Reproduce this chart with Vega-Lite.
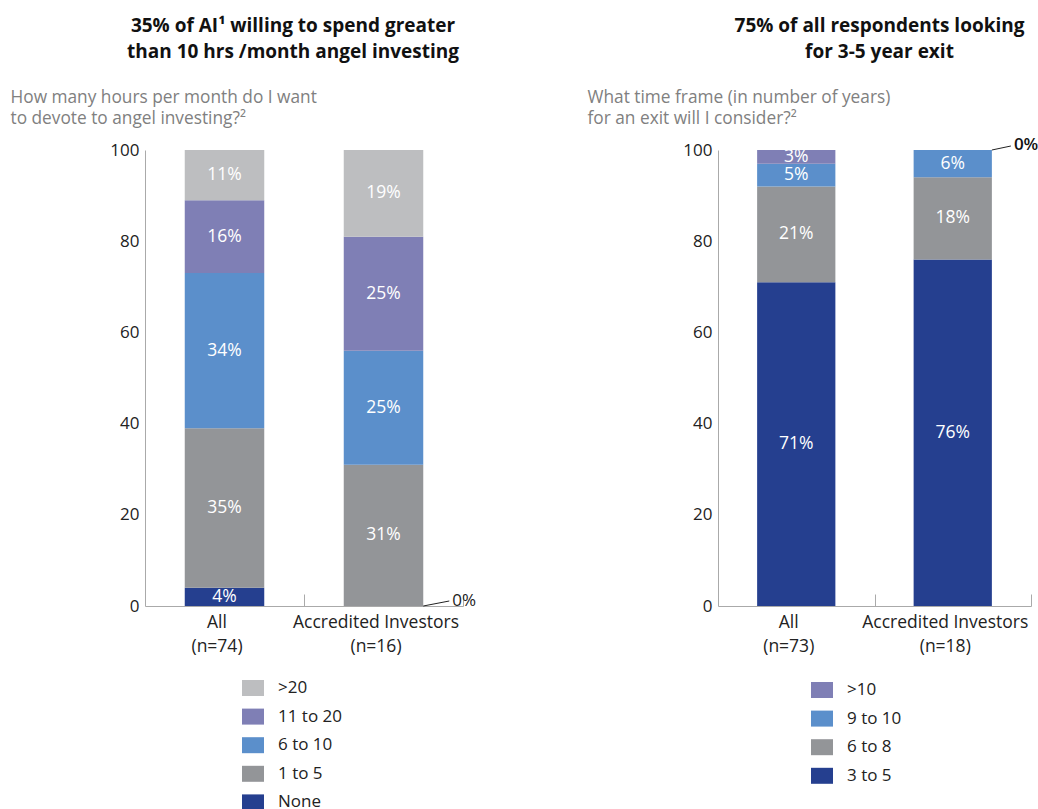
{
  "$schema": "https://vega.github.io/schema/vega-lite/v6.json",
  "padding": {"left": 10, "top": 17, "right": 5, "bottom": 0},
  "background": "white",
  "datasets": {
    "hours": [
      {"group": "All|(n=74)", "cat": "None", "pct": 4},
      {"group": "All|(n=74)", "cat": "1 to 5", "pct": 35},
      {"group": "All|(n=74)", "cat": "6 to 10", "pct": 34},
      {"group": "All|(n=74)", "cat": "11 to 20", "pct": 16},
      {"group": "All|(n=74)", "cat": ">20", "pct": 11},
      {"group": "Accredited Investors|(n=16)", "cat": "None", "pct": 0},
      {"group": "Accredited Investors|(n=16)", "cat": "1 to 5", "pct": 31},
      {"group": "Accredited Investors|(n=16)", "cat": "6 to 10", "pct": 25},
      {"group": "Accredited Investors|(n=16)", "cat": "11 to 20", "pct": 25},
      {"group": "Accredited Investors|(n=16)", "cat": ">20", "pct": 19}
    ],
    "exit": [
      {"group": "All|(n=73)", "cat": "3 to 5", "pct": 71},
      {"group": "All|(n=73)", "cat": "6 to 8", "pct": 21},
      {"group": "All|(n=73)", "cat": "9 to 10", "pct": 5},
      {"group": "All|(n=73)", "cat": ">10", "pct": 3},
      {"group": "Accredited Investors|(n=18)", "cat": "3 to 5", "pct": 76},
      {"group": "Accredited Investors|(n=18)", "cat": "6 to 8", "pct": 18},
      {"group": "Accredited Investors|(n=18)", "cat": "9 to 10", "pct": 6},
      {"group": "Accredited Investors|(n=18)", "cat": ">10", "pct": 0}
    ]
  },
  "hconcat": [
    {
      "width": 318,
      "height": 456,
      "data": {"name": "hours"},
      "title": {
        "text": ["35% of AI¹ willing to spend greater", "than 10 hrs /month angel investing"],
        "dx": -11
      },
      "transform": [
        {"calculate": "indexof(['None','1 to 5','6 to 10','11 to 20','>20'], datum.cat)", "as": "k"},
        {"stack": "pct", "groupby": ["group"], "sort": [{"field": "k", "order": "ascending"}], "as": ["y0", "y1"]},
        {"calculate": "(datum.y0 + datum.y1) / 2", "as": "mid"},
        {"calculate": "datum.pct + '%'", "as": "label"}
      ],
      "encoding": {
        "x": {
          "field": "group", "type": "nominal", "sort": null,
          "scale": {"paddingInner": 0.5, "paddingOuter": 0.25},
          "axis": {"title": null, "labelExpr": "split(datum.label, '|')", "labelAngle": 0, "tickOffset": 79.5, "labelOffset": -87.5}
        }
      },
      "layer": [
        {
          "mark": {"type": "bar"},
          "encoding": {
            "y": {
              "field": "y0", "type": "quantitative",
              "scale": {"domain": [0, 100]},
              "axis": {
                "values": [0, 20, 40, 60, 80, 100],
                "title": ["How many hours per month do I want", "to devote to angel investing?²"],
                "titleX": -135, "titleY": -62
              }
            },
            "y2": {"field": "y1"},
            "color": {
              "field": "cat", "type": "nominal",
              "scale": {
                "domain": [">20", "11 to 20", "6 to 10", "1 to 5", "None"],
                "range": ["#bdbec0", "#7f7fb5", "#5b8fcb", "#939598", "#253f8f"]
              },
              "legend": {"title": null, "orient": "none", "legendX": 97, "legendY": 527}
            }
          }
        },
        {
          "transform": [{"filter": "datum.pct > 0"}],
          "mark": {"type": "text", "color": "white", "fontSize": 17.5},
          "encoding": {
            "y": {"field": "mid", "type": "quantitative"},
            "text": {"field": "label"}
          }
        },
        {
          "transform": [{"filter": "datum.pct == 0"}],
          "mark": {"type": "text", "color": "#222222", "fontSize": 17, "align": "left", "dx": 29, "dy": -5},
          "encoding": {
            "x": {"field": "group", "type": "nominal", "sort": null, "bandPosition": 1},
            "y": {"field": "mid", "type": "quantitative"},
            "text": {"field": "label"}
          }
        },
        {
          "transform": [{"filter": "datum.pct == 0"}],
          "mark": {"type": "rule", "color": "#222222", "strokeWidth": 1, "x2Offset": 26, "y2Offset": -5},
          "encoding": {
            "x": {"field": "group", "type": "nominal", "sort": null, "bandPosition": 1},
            "x2": {"field": "group", "bandPosition": 1},
            "y": {"field": "mid", "type": "quantitative"},
            "y2": {"field": "mid"}
          }
        }
      ]
    },
    {
      "width": 313,
      "height": 456,
      "data": {"name": "exit"},
      "title": {
        "text": ["75% of all respondents looking", "for 3-5 year exit"],
        "dx": 5
      },
      "transform": [
        {"calculate": "indexof(['3 to 5','6 to 8','9 to 10','>10'], datum.cat)", "as": "k"},
        {"stack": "pct", "groupby": ["group"], "sort": [{"field": "k", "order": "ascending"}], "as": ["y0", "y1"]},
        {"calculate": "(datum.y0 + datum.y1) / 2", "as": "mid"},
        {"calculate": "datum.pct + '%'", "as": "label"}
      ],
      "encoding": {
        "x": {
          "field": "group", "type": "nominal", "sort": null,
          "scale": {"paddingInner": 0.5, "paddingOuter": 0.25},
          "axis": {"title": null, "labelExpr": "split(datum.label, '|')", "labelAngle": 0, "tickOffset": 78.25, "labelOffset": -86.25}
        }
      },
      "layer": [
        {
          "mark": {"type": "bar"},
          "encoding": {
            "y": {
              "field": "y0", "type": "quantitative",
              "scale": {"domain": [0, 100]},
              "axis": {
                "values": [0, 20, 40, 60, 80, 100],
                "title": ["What time frame (in number of years)", "for an exit will I consider?²"],
                "titleX": -131, "titleY": -62
              }
            },
            "y2": {"field": "y1"},
            "color": {
              "field": "cat", "type": "nominal",
              "scale": {
                "domain": [">10", "9 to 10", "6 to 8", "3 to 5"],
                "range": ["#7f7fb5", "#5b8fcb", "#939598", "#253f8f"]
              },
              "legend": {"title": null, "orient": "none", "legendX": 93, "legendY": 529}
            }
          }
        },
        {
          "transform": [{"filter": "datum.pct > 0"}],
          "mark": {"type": "text", "color": "white", "fontSize": 17.5},
          "encoding": {
            "y": {"field": "mid", "type": "quantitative"},
            "text": {"field": "label"}
          }
        },
        {
          "transform": [{"filter": "datum.pct == 0"}],
          "mark": {"type": "text", "color": "#111111", "fontSize": 17, "fontWeight": 600, "align": "left", "dx": 22, "dy": -5},
          "encoding": {
            "x": {"field": "group", "type": "nominal", "sort": null, "bandPosition": 1},
            "y": {"field": "mid", "type": "quantitative"},
            "text": {"field": "label"}
          }
        },
        {
          "transform": [{"filter": "datum.pct == 0"}],
          "mark": {"type": "rule", "color": "#222222", "strokeWidth": 1, "x2Offset": 19, "y2Offset": -4},
          "encoding": {
            "x": {"field": "group", "type": "nominal", "sort": null, "bandPosition": 1},
            "x2": {"field": "group", "bandPosition": 1},
            "y": {"field": "mid", "type": "quantitative"},
            "y2": {"field": "mid"}
          }
        }
      ]
    }
  ],
  "spacing": 110,
  "resolve": {"scale": {"color": "independent", "x": "independent"}, "legend": {"color": "independent"}},
  "config": {
    "font": "Open Sans",
    "view": {"stroke": null},
    "title": {"fontSize": 19, "fontWeight": "bold", "color": "#111111", "anchor": "middle", "frame": "group", "lineHeight": 26, "offset": 26},
    "axis": {
      "labelFontSize": 17, "labelColor": "#222222", "domainColor": "#aaaaaa", "tickColor": "#aaaaaa",
      "grid": false
    },
    "axisY": {
      "ticks": false, "labelPadding": 6,
      "titleAngle": 0, "titleAlign": "left", "titleBaseline": "top", "titleFontSize": 17.3,
      "titleFontWeight": "normal", "titleColor": "#808080", "titleLineHeight": 21
    },
    "axisX": {"labelPadding": 19, "labelLineHeight": 24, "labelBaseline": "top", "tickSize": -12, "labelFontSize": 17.5},
    "legend": {
      "labelFontSize": 17, "labelColor": "#222222", "padding": 0,
      "symbolType": "M-1,-0.727L1,-0.727L1,0.727L-1,0.727Z", "symbolSize": 484,
      "symbolStrokeWidth": 0, "rowPadding": 9.6, "labelOffset": 14
    }
  }
}
